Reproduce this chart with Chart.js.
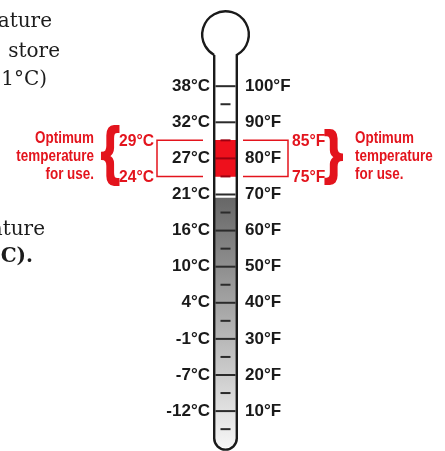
<!DOCTYPE html>
<html>
<head>
<meta charset="utf-8">
<script src="https://cdn.jsdelivr.net/npm/chart.js@4"></script>
<style>
  html, body { margin: 0; padding: 0; background: #fff; }
  #wrap { width: 445px; height: 451px; position: relative; }
</style>
</head>
<body>
<div id="wrap"><canvas id="thermo"></canvas></div>
<script>
// scale values, in degrees F (the right hand axis)
const fahrenheitTicks = [10, 20, 30, 40, 50, 60, 70, 80, 90, 100];
const celsiusLabels = ['-12°C', '-7°C', '-1°C', '4°C', '10°C', '16°C', '21°C', '27°C', '32°C', '38°C'];
const fahrenheitLabels = ['10°F', '20°F', '30°F', '40°F', '50°F', '60°F', '70°F', '80°F', '90°F', '100°F'];
const minorTicks = [5, 15, 25, 35, 45, 55, 65, 75, 85, 95];

// filled parts of the column
const coolRange = [0, 69];
const optimumRange = [75, 85];
const optimumCelsius = ['24°C', '29°C'];
const optimumFahrenheit = ['75°F', '85°F'];
const optimumNote = ['Optimum', 'temperature', 'for use.'];

// text cut off at the left edge of the picture
const sideText = [
    { text: 'ature', y: 27, right: 52, bold: false },
    { text: 'store', y: 57, right: 60, bold: false },
    { text: '1°C)', y: 85, right: 47, bold: false },
    { text: 'ature', y: 235, right: 45, bold: false },
    { text: 'C).', y: 262, right: 33, bold: true }
];

const RED = '#e3141d';
const SANS = '"Liberation Sans", Arial, sans-serif';

function coolGradient(context) {
    const chart = context.chart;
    const { ctx, chartArea, scales } = chart;
    if (!chartArea) return '#999';
    const g = ctx.createLinearGradient(0, scales.y.getPixelForValue(coolRange[1]), 0, scales.y.getPixelForValue(coolRange[0]));
    g.addColorStop(0, '#676767');
    g.addColorStop(1, '#f6f6f6');
    return g;
}

function tickColor(context) {
    const v = context.raw && context.raw.y;
    return (v >= optimumRange[0] && v <= optimumRange[1]) ? '#9c0010' : '#2b2b2b';
}

// condensed text, squeezed sideways
function narrowText(ctx, text, x, y, align, sx) {
    ctx.save();
    ctx.translate(x, y);
    ctx.scale(sx, 1);
    ctx.textAlign = align;
    ctx.fillText(text, 0, 0);
    ctx.restore();
}

function drawBrace(ctx, ch, x, top, bottom, align) {
    ctx.save();
    ctx.font = 'bold 60px ' + SANS;
    ctx.textAlign = align;
    ctx.textBaseline = 'alphabetic';
    const m = ctx.measureText(ch);
    const h = m.actualBoundingBoxAscent + m.actualBoundingBoxDescent;
    const sy = (bottom - top) / h;
    ctx.translate(x, top + m.actualBoundingBoxAscent * sy);
    ctx.scale(0.8, sy);
    ctx.fillStyle = RED;
    ctx.strokeStyle = RED;
    ctx.lineWidth = 2;
    ctx.fillText(ch, 0, 0);
    ctx.strokeText(ch, 0, 0);
    ctx.restore();
}

const thermoDecor = {
    id: 'thermoDecor',
    afterDatasetsDraw(chart) {
        const { ctx, chartArea, scales } = chart;
        const y = scales.y;
        const lw = 2.4;
        const xl = chartArea.left + lw / 2;
        const xr = chartArea.right - lw / 2;
        const cx = (xl + xr) / 2;
        const rt = (xr - xl) / 2;

        // tube and bulb outline
        const bulbY = y.getPixelForValue(114.3);
        const bulbR = 23.3;
        const a = Math.acos(rt / bulbR);
        const bottomY = y.getPixelForValue(-1) - rt - lw / 2;
        ctx.save();
        ctx.strokeStyle = '#1a1a1a';
        ctx.lineWidth = lw;
        ctx.beginPath();
        ctx.moveTo(xl, bulbY + bulbR * Math.sin(a));
        ctx.lineTo(xl, bottomY);
        ctx.arc(cx, bottomY, rt, Math.PI, 0, true);
        ctx.lineTo(xr, bulbY + bulbR * Math.sin(a));
        ctx.arc(cx, bulbY, bulbR, a, Math.PI - a, true);
        ctx.stroke();
        ctx.restore();

        // red brackets around the optimum range
        const yTop = y.getPixelForValue(optimumRange[1]);
        const yBot = y.getPixelForValue(optimumRange[0]);
        ctx.save();
        ctx.strokeStyle = RED;
        ctx.lineWidth = 1.5;
        ctx.beginPath();
        ctx.moveTo(chartArea.left - 10, yTop);
        ctx.lineTo(157, yTop);
        ctx.lineTo(157, yBot);
        ctx.lineTo(chartArea.left - 10, yBot);
        ctx.moveTo(chartArea.right + 5, yTop);
        ctx.lineTo(288, yTop);
        ctx.lineTo(288, yBot);
        ctx.lineTo(chartArea.right + 5, yBot);
        ctx.stroke();

        ctx.fillStyle = RED;
        ctx.font = 'bold 17px ' + SANS;
        ctx.textBaseline = 'middle';
        narrowText(ctx, optimumCelsius[1], 154, yTop + 1, 'right', 0.92);
        narrowText(ctx, optimumCelsius[0], 154, yBot + 1, 'right', 0.92);
        narrowText(ctx, optimumFahrenheit[1], 292, yTop + 1, 'left', 0.92);
        narrowText(ctx, optimumFahrenheit[0], 292, yBot + 1, 'left', 0.92);

        ctx.font = 'bold 16px ' + SANS;
        optimumNote.forEach((line, i) => {
            const ly = 139 + i * 18;
            narrowText(ctx, line, 94, ly, 'right', 0.84);
            narrowText(ctx, line, 355, ly, 'left', 0.84);
        });
        ctx.restore();

        drawBrace(ctx, '{', 101, 127, 184, 'left');
        drawBrace(ctx, '}', 343, 131, 184, 'right');

        // leftover sentence at the left edge
        ctx.save();
        ctx.fillStyle = '#1c1c1c';
        ctx.textAlign = 'right';
        ctx.textBaseline = 'alphabetic';
        sideText.forEach(t => {
            ctx.font = (t.bold ? 'bold ' : '') + '20px "DejaVu Serif", serif';
            ctx.fillText(t.text, t.right, t.y);
        });
        ctx.restore();
    }
};

function fixedAxis(width) {
    return scale => {
        scale.width = width;
        scale.paddingTop = 0;
        scale.paddingBottom = 0;
    };
}

const axisFont = { family: SANS, size: 17, weight: 'bold' };

new Chart(document.getElementById('thermo'), {
    type: 'bar',
    data: {
        labels: ['tube'],
        datasets: [{
            label: 'cool',
            data: [coolRange],
            backgroundColor: coolGradient,
            barThickness: 22,
            grouped: false,
            clip: false,
            borderSkipped: false,
            borderRadius: { topLeft: 0, topRight: 0, bottomLeft: 11, bottomRight: 11 },
            order: 3
        }, {
            label: 'optimum',
            data: [optimumRange],
            backgroundColor: '#ee101c',
            barThickness: 22,
            grouped: false,
            order: 2
        }, {
            type: 'line',
            label: 'major',
            data: fahrenheitTicks.map(v => ({ x: 'tube', y: v })),
            showLine: false,
            pointStyle: 'line',
            pointRadius: 10,
            pointBorderWidth: 2,
            pointBorderColor: tickColor,
            order: 1
        }, {
            type: 'line',
            label: 'minor',
            data: minorTicks.map(v => ({ x: 'tube', y: v })),
            showLine: false,
            pointStyle: 'line',
            pointRadius: 5,
            pointBorderWidth: 2,
            pointBorderColor: tickColor,
            order: 1
        }]
    },
    options: {
        responsive: true,
        maintainAspectRatio: false,
        animation: false,
        layout: { padding: { left: 153, right: 147, top: 2, bottom: 1 } },
        plugins: { legend: { display: false }, tooltip: { enabled: false } },
        scales: {
            x: { display: false },
            yC: {
                position: 'left',
                min: 2.27, max: 120.55,
                afterBuildTicks: scale => { scale.ticks = fahrenheitTicks.map(v => ({ value: v })); },
                afterFit: fixedAxis(60),
                grid: { display: false, drawTicks: false },
                border: { display: false },
                ticks: {
                    padding: 3,
                    color: '#1a1a1a',
                    font: axisFont,
                    callback: (v) => celsiusLabels[fahrenheitTicks.indexOf(v)]
                }
            },
            y: {
                position: 'right',
                min: 2.27, max: 120.55,
                afterBuildTicks: scale => { scale.ticks = fahrenheitTicks.map(v => ({ value: v })); },
                afterFit: fixedAxis(60),
                grid: { display: false, drawTicks: false },
                border: { display: false },
                ticks: {
                    padding: 7,
                    color: '#1a1a1a',
                    font: axisFont,
                    callback: (v) => fahrenheitLabels[fahrenheitTicks.indexOf(v)]
                }
            }
        }
    },
    plugins: [thermoDecor]
});
</script>
</body>
</html>
